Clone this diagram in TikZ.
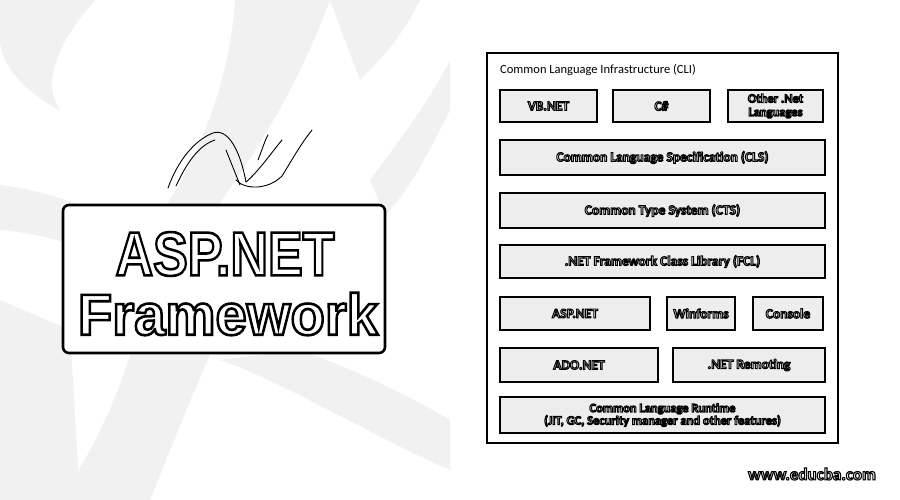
\documentclass[tikz,border=0pt]{standalone}
\usepackage{fontspec}
\setmainfont{Carlito}
\newfontfamily\titlefont{Liberation Sans}
\newcommand\otext[2]{{\color{white}\special{pdf:literal direct 2 Tr #1 w 0 0 0 RG}#2\special{pdf:literal direct 0 Tr}}}
\tikzset{
  lay/.style={draw=black, line width=1.8pt, fill=gray!14, inner sep=0pt, align=center,
    font=\fontsize{13.5}{13.5}\selectfont\bfseries},
  bgband/.style={fill=gray!11, draw=none},
  logo/.style={draw=black, line width=0.9pt, line cap=round}
}
\begin{document}
\begin{tikzpicture}[x=1pt,y=-1pt]
\useasboundingbox (0,0) rectangle (900,500);
\fill[white] (0,0) rectangle (900,500);
% background bands
\fill[bgband] (0,0) -- (95,0) .. controls (60,40) and (40,80) .. (60,110) .. controls (20,90) and (0,60) .. (0,40) -- cycle;
\fill[bgband] (235,0) -- (330,0) .. controls (300,80) and (260,150) .. (200,230) -- (150,230) .. controls (200,160) and (230,80) .. (235,0) -- cycle;
\fill[bgband] (0,185) .. controls (40,190) and (70,200) .. (100,215) -- (90,250) .. controls (60,240) and (30,232) .. (0,230) -- cycle;
\fill[bgband] (0,300) -- (70,330) -- (80,500) -- (0,500) -- cycle;
\fill[bgband] (130,355) .. controls (110,420) and (80,470) .. (60,500) -- (150,500) .. controls (170,450) and (190,400) .. (210,355) -- cycle;
\fill[bgband] (220,360) .. controls (280,380) and (380,440) .. (450,470) -- (450,420) .. controls (400,390) and (330,360) .. (300,350) -- cycle;
\fill[bgband] (370,180) .. controls (400,140) and (430,100) .. (450,60) -- (450,110) .. controls (430,150) and (410,190) .. (385,215) -- cycle;
\fill[bgband] (330,0) -- (420,0) .. controls (400,40) and (380,60) .. (360,80) -- cycle;
% logo strokes
\draw[logo] (168,188) .. controls (178,160) and (195,140) .. (213,133) .. controls (228,128) and (240,150) .. (246,182);
\draw[logo] (176,186) .. controls (188,160) and (200,145) .. (215,140);
\draw[logo] (246,182) .. controls (258,172) and (272,152) .. (282,140);
\draw[logo] (236,180) .. controls (245,190) and (268,190) .. (282,176) .. controls (292,160) and (300,145) .. (312,130);
\draw[logo] (226,150) .. controls (232,165) and (236,175) .. (240,185);
\draw[logo] (258,160) .. controls (262,150) and (265,140) .. (268,135);
% title box
\node[draw=black, line width=2.6pt, rounded corners=6pt, fill=white, minimum width=322pt, minimum height=148pt, inner sep=0pt] (title) at (224,279) {};
\node[font=\titlefont\bfseries\fontsize{62}{62}\selectfont, inner sep=0pt] (t1) at (225,254) {\scalebox{0.84}[1]{\otext{2.6}{ASP.NET}}};
\node[font=\titlefont\bfseries\fontsize{58}{58}\selectfont, inner sep=0pt] (t2) at (228,314) {\scalebox{0.97}[1]{\otext{2.6}{Framework}}};
% CLI frame
\node[draw=black, line width=2.2pt, fill=white, minimum width=351pt, minimum height=390pt, inner sep=0pt] (cli) at (662.5,248) {};
\node[anchor=west, font=\fontsize{12.5}{12.5}\selectfont, inner sep=0pt] (clilabel) at (500,70) {Common Language Infrastructure (CLI)};
% layers
\node[lay, minimum width=97pt, minimum height=32pt] (vb) at (548.5,106) {\otext{1}{VB.NET}};
\node[lay, minimum width=97pt, minimum height=32pt] (cs) at (661.5,106) {\otext{1}{C\#}};
\node[lay, minimum width=95pt, minimum height=32pt, font=\fontsize{12.5}{12.5}\selectfont\bfseries] (other) at (775.5,106) {\otext{1}{Other .Net}\\[1pt]\otext{1}{Languages}};
\node[lay, minimum width=325pt, minimum height=35pt] (cls) at (662.5,157.5) {\otext{1}{Common Language Specification (CLS)}};
\node[lay, minimum width=325pt, minimum height=35pt] (cts) at (662.5,210.5) {\otext{1}{Common Type System (CTS)}};
\node[lay, minimum width=325pt, minimum height=33pt] (fcl) at (662.5,261.5) {\otext{1}{.NET Framework Class Library (FCL)}};
\node[lay, minimum width=150pt, minimum height=33pt] (asp) at (575,313.5) {\otext{1}{ASP.NET}};
\node[lay, minimum width=68pt, minimum height=33pt] (win) at (701,313.5) {\otext{1}{Winforms}};
\node[lay, minimum width=70pt, minimum height=33pt] (con) at (788,313.5) {\otext{1}{Console}};
\node[lay, minimum width=158pt, minimum height=34pt] (ado) at (579,365) {\otext{1}{ADO.NET}};
\node[lay, minimum width=152pt, minimum height=34pt] (rem) at (749,365) {\otext{1}{.NET Remoting}};
\node[lay, minimum width=325pt, minimum height=36pt, font=\fontsize{12.5}{12.5}\selectfont\bfseries] (clr) at (662.5,415) {\otext{1}{Common Language Runtime}\\[0pt]\otext{1}{(JIT, GC, Security manager and other features)}};
% watermark
\node[font=\fontsize{17}{17}\selectfont\bfseries, inner sep=0pt] (www) at (812,474) {\otext{1.1}{www.educba.com}};
\end{tikzpicture}
\end{document}
